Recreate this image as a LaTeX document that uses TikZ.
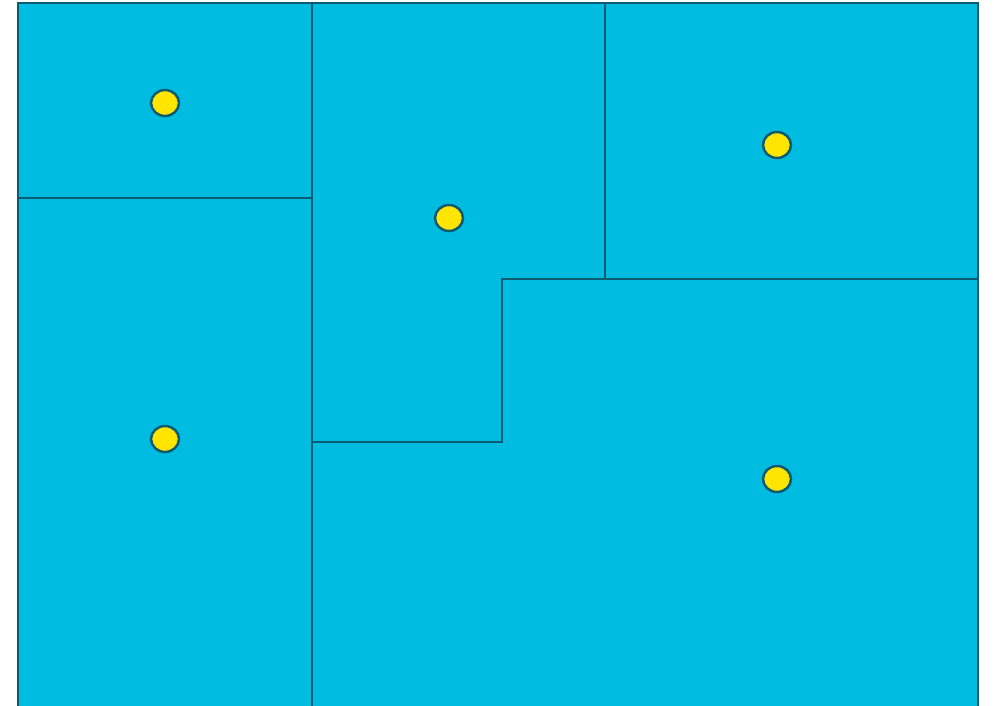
\documentclass[tikz,border=0pt]{standalone}
\usetikzlibrary{shapes.geometric}
\definecolor{regionfill}{HTML}{00BCE1}
\definecolor{edge}{HTML}{0D5B70}
\definecolor{dotfill}{HTML}{FFE500}
\begin{document}
\begin{tikzpicture}[x=1pt,y=-1pt,
  region/.style={fill=regionfill,draw=edge,line width=2.5pt,line join=miter},
  seed/.style={ellipse,minimum width=28pt,minimum height=26pt,inner sep=0pt,fill=dotfill,draw=edge,line width=2.5pt}]
\useasboundingbox (0,0) rectangle (997,705);
\clip (0,0) rectangle (997,705);
\fill[white] (0,0) rectangle (997,705);
% regions
\draw[region] (18,3) rectangle (312,198);
\draw[region] (18,198) rectangle (312,715);
\draw[region] (312,3) -- (605,3) -- (605,279) -- (502,279) -- (502,442) -- (312,442) -- cycle;
\draw[region] (605,3) rectangle (978,279);
\draw[region] (502,279) -- (978,279) -- (978,715) -- (312,715) -- (312,442) -- (502,442) -- cycle;
% seeds
\node[seed] (s1) at (165,103) {};
\node[seed] (s2) at (449,218) {};
\node[seed] (s3) at (777,145) {};
\node[seed] (s4) at (165,439) {};
\node[seed] (s5) at (777,479) {};
\end{tikzpicture}
\end{document}
